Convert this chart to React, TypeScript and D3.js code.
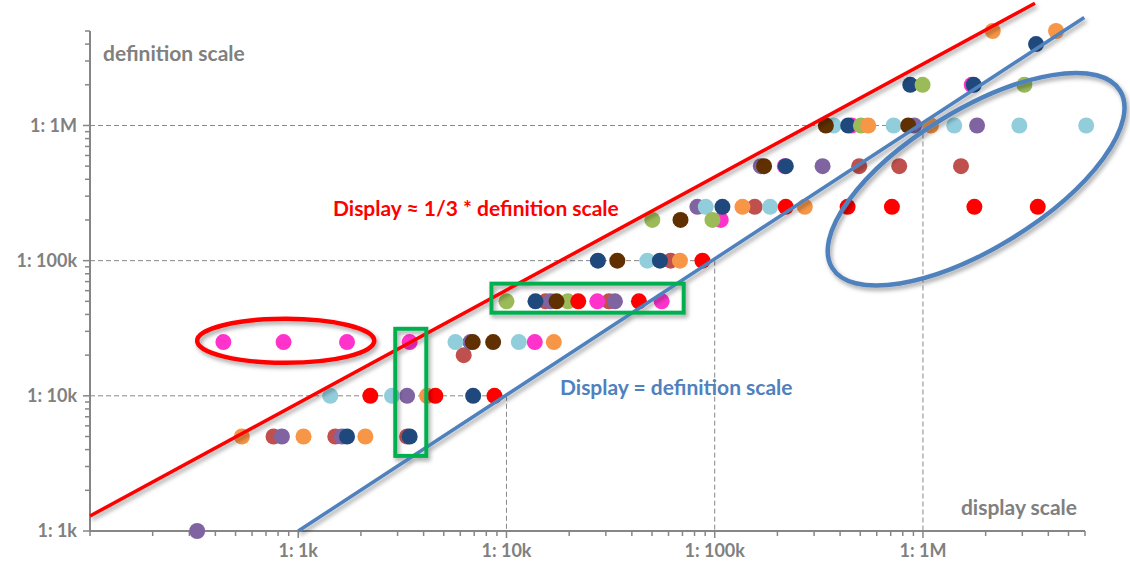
import React from "react";
import * as d3 from "d3";

const W = 1130;
const H = 561;

// axis labels
const majorValues = [1e3, 1e4, 1e5, 1e6];
const majorLabels = ["1: 1k", "1: 10k", "1: 100k", "1: 1M"];
// dashed guides drawn where display = definition
const guideValues = [1e4, 1e5, 1e6];

// series: [display scale, definition scale]
const lightBlue = [
  [1425, 1e4], [2820, 1e4], [5686, 25e3], [11460, 25e3], [47460, 1e5],
  [90550, 25e4], [184500, 25e4], [372100, 1e6], [722700, 1e6],
  [1413000, 1e6], [2904000, 1e6], [6080000, 1e6],
];
const darkRed = [
  [761, 5e3], [1506, 5e3], [3333, 5e3], [6231, 2e4], [15400, 5e4],
  [31040, 5e4], [61400, 1e5], [155700, 25e4], [494200, 5e5],
  [769100, 5e5], [1523000, 5e5],
];
const purple = [
  [327, 1e3], [835, 5e3], [1622, 5e3], [3333, 1e4], [6713, 25e3],
  [16270, 5e4], [33180, 5e4], [82560, 25e4], [166400, 5e5],
  [329600, 5e5], [908000, 1e6], [1819000, 1e6],
];
const pink = [
  [437, 25e3], [850, 25e3], [1715, 25e3], [3428, 25e3], [13680, 25e3],
  [27300, 5e4], [55620, 5e4], [106900, 2e5], [217100, 5e5],
  [454000, 1e6], [1714000, 2e6],
];
const navy = [
  [1715, 5e3], [3428, 5e3], [6918, 1e4], [13780, 5e4], [27480, 1e5],
  [54560, 1e5], [108900, 25e4], [219400, 5e5], [437500, 1e6],
  [869000, 2e6], [1753000, 2e6], [3493000, 4e6],
];
const green = [
  [10000, 5e4], [19710, 5e4], [50170, 2e5], [97500, 2e5], [503600, 1e6],
  [996000, 2e6], [3069000, 2e6],
];
const orange = [
  [536, 5e3], [1060, 5e3], [2100, 5e3], [4155, 1e4], [16880, 25e3],
  [68080, 1e5], [135900, 25e4], [270800, 25e4], [545900, 1e6],
  [1092000, 1e6], [2163000, 5e6], [4357000, 5e6],
];
const red = [
  [2219, 1e4], [4556, 1e4], [8756, 1e4], [22120, 5e4], [43250, 5e4],
  [87300, 1e5], [219400, 25e4], [434600, 25e4], [709500, 25e4],
  [1766000, 25e4], [3559000, 25e4],
];
const brown = [
  [6887, 25e3], [8630, 25e3], [17390, 5e4], [34060, 1e5], [68500, 2e5],
  [172600, 5e5], [341700, 1e6], [849800, 1e6],
];

const series = [
  { data: darkRed, color: "#C0504D" },
  { data: purple, color: "#8064A2" },
  { data: lightBlue, color: "#92CDDC" },
  { data: pink, color: "#FF33CC" },
  { data: navy, color: "#1F497D" },
  { data: green, color: "#9BBB59" },
  { data: orange, color: "#F79646" },
  { data: red, color: "#FF0000" },
  { data: brown, color: "#603000" },
];

// annotation shapes, in data units
const redLine = [[100, 1291], [3.45e6, 8.02e6]];
const blueLine = [[1e3, 1e3], [5.95e6, 6.3e6]];
const redOval = { x0: 327, x1: 2318, y0: 17540, y1: 37150 };
const greenBoxes = [
  { x0: 2924, x1: 4121, y0: 3594, y1: 31330 },
  { x0: 8471, x1: 70970, y0: 41210, y1: 67580 },
];
const blueOval = { cx: 1.8e6, cy: 4e5, rx: 169, ry: 69, angle: -31.6 };

const grey = "#808080";
const font = "Lato, 'Open Sans', sans-serif";

export default function App() {
  const x = d3.scaleLog().domain([100, 6e6]).range([90, 1085]);
  const y = d3.scaleLog().domain([1e3, 5e6]).range([531, 31]);
  const x0 = x.range()[0];
  const y0 = y.range()[0];
  const line = d3.line<number[]>().x((d) => x(d[0])).y((d) => y(d[1]));

  return (
    <svg
      width={W}
      height={H}
      style={{ position: "absolute", left: 0, top: 0, background: "#fff" }}
      fontFamily={font}
    >
      <defs>
        <filter id="shadow" x="-20%" y="-20%" width="140%" height="140%">
          <feDropShadow dx="2" dy="3" stdDeviation="2" floodColor="#000" floodOpacity="0.35" />
        </filter>
      </defs>

      {/* dashed guides */}
      <g stroke="#888" strokeWidth={1} strokeDasharray="5,3" fill="none">
        {guideValues.map((v) => (
          <g key={v}>
            <line x1={x0} x2={x(v)} y1={y(v)} y2={y(v)} />
            <line x1={x(v)} x2={x(v)} y1={y(v)} y2={y0} />
          </g>
        ))}
      </g>

      {/* axes */}
      <g stroke="#868686" fill="none">
        <line x1={x0} x2={x.range()[1]} y1={y0} y2={y0} strokeWidth={2} />
        <line x1={x0} x2={x0} y1={y0} y2={y.range()[1]} strokeWidth={2} />
        {x.ticks().map((t) => (
          <line key={"x" + t} x1={x(t)} x2={x(t)} y1={y0} y2={y0 + (majorValues.includes(t) ? 7 : 5)} strokeWidth={1.5} />
        ))}
        {y.ticks().map((t) => (
          <line key={"y" + t} x1={x0} x2={x0 - (majorValues.includes(t) ? 7 : 5)} y1={y(t)} y2={y(t)} strokeWidth={1.5} />
        ))}
      </g>
      <g fill={grey} fontWeight="bold" fontSize={18}>
        {majorValues.map((v, i) => (
          <text key={"xl" + v} x={x(v)} y={557} textAnchor="middle">{majorLabels[i]}</text>
        ))}
        {majorValues.map((v, i) => (
          <text key={"yl" + v} x={77} y={y(v)} dy="0.35em" textAnchor="end">{majorLabels[i]}</text>
        ))}
        <text x={103} y={61} fontSize={21}>definition scale</text>
        <text x={1077} y={515} fontSize={21} textAnchor="end">display scale</text>
      </g>

      {/* points */}
      {series.map((s) => (
        <g key={s.color} fill={s.color}>
          {s.data.map((d, i) => (
            <circle key={i} cx={x(d[0])} cy={y(d[1])} r={8} />
          ))}
        </g>
      ))}

      {/* annotations */}
      <g fill="none" filter="url(#shadow)">
        <path d={line(redLine) || ""} stroke="#FF0000" strokeWidth={3.5} />
        <path d={line(blueLine) || ""} stroke="#4F81BD" strokeWidth={3.5} />
        <ellipse
          cx={(x(redOval.x0) + x(redOval.x1)) / 2}
          cy={(y(redOval.y0) + y(redOval.y1)) / 2}
          rx={(x(redOval.x1) - x(redOval.x0)) / 2}
          ry={(y(redOval.y0) - y(redOval.y1)) / 2}
          stroke="#FF0000"
          strokeWidth={4.5}
        />
        {greenBoxes.map((b, i) => (
          <rect
            key={i}
            x={x(b.x0)}
            y={y(b.y1)}
            width={x(b.x1) - x(b.x0)}
            height={y(b.y0) - y(b.y1)}
            stroke="#00B050"
            strokeWidth={4}
          />
        ))}
        <ellipse
          transform={`translate(${x(blueOval.cx)},${y(blueOval.cy)}) rotate(${blueOval.angle})`}
          rx={blueOval.rx}
          ry={blueOval.ry}
          stroke="#4F81BD"
          strokeWidth={4.5}
        />
      </g>

      <text x={333} y={216} fill="#FF0000" fontWeight="bold" fontSize={21}>
        Display ≈ 1/3 * definition scale
      </text>
      <text x={560} y={395} fill="#4F81BD" fontWeight="bold" fontSize={21}>
        Display = definition scale
      </text>
    </svg>
  );
}
